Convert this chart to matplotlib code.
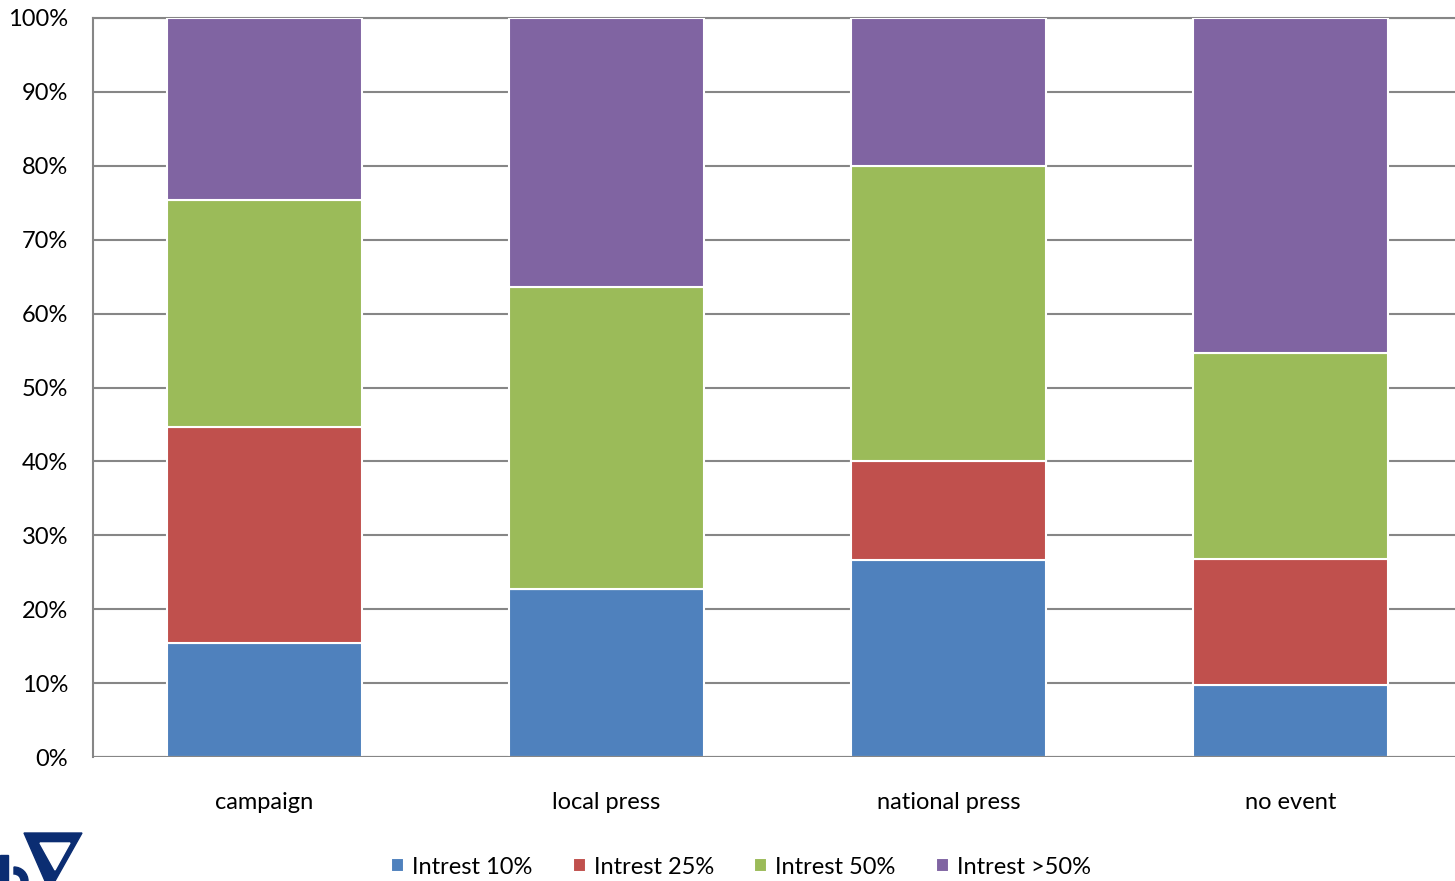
import numpy as np
import matplotlib.pyplot as plt
from matplotlib.patches import Polygon, Wedge, Rectangle

# data (percent of each bar)
categories = ["campaign", "local press", "national press", "no event"]
series_names = ["Intrest 10%", "Intrest 25%", "Intrest 50%", "Intrest >50%"]
intrest_10 = [15.4, 22.7, 26.7, 9.7]
intrest_25 = [29.2, 0.0, 13.3, 17.1]
intrest_50 = [30.8, 40.9, 40.0, 27.9]
intrest_gt50 = [24.6, 36.4, 20.0, 45.3]

colors = ["#4f81bd", "#c0504d", "#9bbb59", "#8064a2"]

plt.rcParams['font.family'] = ['Lato', 'DejaVu Sans']

fig = plt.figure(figsize=(14.55, 8.81), dpi=100)
ax = fig.add_axes([93 / 1455, 1 - 757 / 881, 1369 / 1455, 739 / 881])

x = np.arange(len(categories))
bottom = np.zeros(len(categories))
for name, vals, col in zip(series_names, [intrest_10, intrest_25, intrest_50, intrest_gt50], colors):
    vals = np.array(vals)
    ax.bar(x, vals, bottom=bottom, width=0.57, color=col, edgecolor="white",
           linewidth=1.5, label=name, zorder=3)
    bottom += vals

ax.set_xlim(-0.5, len(categories) - 0.5)
ax.set_ylim(0, 100)
ax.set_yticks(np.arange(0, 101, 10))
ax.set_yticklabels([f"{v}%" for v in range(0, 101, 10)], fontsize=17)
ax.set_xticks(x)
ax.set_xticklabels(categories, fontsize=17)
ax.tick_params(axis="y", length=0, pad=18)
ax.tick_params(axis="x", length=0, pad=25)
ax.grid(axis="y", color="#868686", linewidth=1.5, zorder=0)
for side in ["right", "bottom"]:
    ax.spines[side].set_visible(False)
ax.spines["left"].set_color("#868686")
ax.spines["left"].set_linewidth(1.5)
ax.spines["top"].set_color("#868686")
ax.spines["top"].set_linewidth(1.5)
ax.axhline(0, color="#868686", linewidth=1.5, zorder=4)

leg = fig.legend(loc="center", bbox_to_anchor=(741 / 1455, 1 - 867 / 881), ncol=4,
                 frameon=False, fontsize=17, handlelength=0.55, handleheight=0.55,
                 handletextpad=0.35, columnspacing=1.7)

# partial logo in bottom-left corner
navy = "#0b2d72"
to_fig = lambda pts: [(px / 1455, 1 - py / 881) for px, py in pts]
outer = [(24, 833), (82, 833), (55, 881), (45, 881)]
inner = [(40, 843), (70, 843), (55, 870)]
fig.patches.append(Polygon(to_fig(outer), closed=True, color=navy, transform=fig.transFigure))
fig.patches.append(Polygon(to_fig(inner), closed=True, color="white", transform=fig.transFigure))
# piece of a letter cut by the image edge
fig.patches.append(Rectangle((0, 0), 8 / 1455, 26 / 881, color=navy, transform=fig.transFigure))
ax_logo = fig.add_axes([0, 0, 40 / 1455, 30 / 881])
ax_logo.set_xlim(0, 40)
ax_logo.set_ylim(0, 30)
ax_logo.axis("off")
ax_logo.add_patch(Wedge((14, 0), 14, 0, 90, width=7, color=navy))

fig.savefig("out.png", dpi=100)
